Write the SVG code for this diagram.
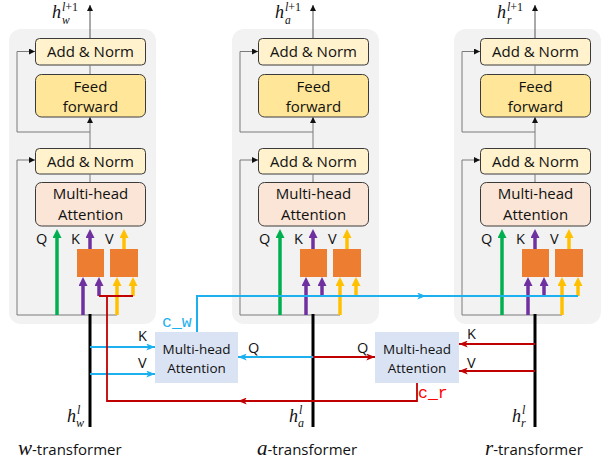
<svg xmlns="http://www.w3.org/2000/svg" width="608" height="462" viewBox="0 0 608 462">
<style>
.panel{fill:#f2f2f2}
.an{fill:#fff2cc;stroke:#3a3a3a;stroke-width:1}
.ff{fill:#ffe699;stroke:#3a3a3a;stroke-width:1}
.mha{fill:#fbe5d6;stroke:#3a3a3a;stroke-width:1}
.ob{fill:#ed7d31}
.xa{fill:#dae3f3}
.t{font-family:"Open Sans","Liberation Sans",sans-serif;font-size:15px;fill:#111;text-anchor:middle}
.tx{font-family:"Open Sans","Liberation Sans",sans-serif;font-size:13.5px;fill:#111;text-anchor:middle}
.lb{font-family:"Open Sans","Liberation Sans",sans-serif;font-size:14.5px;fill:#111}
.m{font-family:"Liberation Serif","DejaVu Serif",serif;font-style:italic;fill:#111}
.mu{font-family:"Liberation Serif","DejaVu Serif",serif;fill:#111}
.g{fill:none;stroke:#7a7a7a;stroke-width:1}
.gk{fill:none;stroke:#555;stroke-width:1}
.blk{fill:none;stroke:#000;stroke-width:3}
.cg{fill:none;stroke:#00b050;stroke-width:3.5}
.cp{fill:none;stroke:#7030a0;stroke-width:3.5}
.cy{fill:none;stroke:#ffc000;stroke-width:3.5}
.bl{fill:none;stroke:#1cb0ee;stroke-width:2}
.rd{fill:none;stroke:#c00000;stroke-width:1.8}
.code{font-family:"Liberation Mono","DejaVu Sans Mono",monospace;font-size:16.5px}
</style>
<defs>
<marker id="ak" viewBox="0 0 10 10" refX="10" refY="5" markerWidth="6" markerHeight="6" markerUnits="userSpaceOnUse" orient="auto"><path d="M0,0L10,5L0,10z" fill="#111"/></marker>
<marker id="ag" viewBox="0 0 10 10" refX="0" refY="5" markerWidth="9" markerHeight="9" markerUnits="userSpaceOnUse" orient="auto"><path d="M0,0L10,5L0,10z" fill="#00b050"/></marker>
<marker id="ap" viewBox="0 0 10 10" refX="0" refY="5" markerWidth="9" markerHeight="9" markerUnits="userSpaceOnUse" orient="auto"><path d="M0,0L10,5L0,10z" fill="#7030a0"/></marker>
<marker id="ay" viewBox="0 0 10 10" refX="0" refY="5" markerWidth="9" markerHeight="9" markerUnits="userSpaceOnUse" orient="auto"><path d="M0,0L10,5L0,10z" fill="#ffc000"/></marker>
<marker id="ab" viewBox="0 0 10 8" refX="10" refY="4" markerWidth="9" markerHeight="7" markerUnits="userSpaceOnUse" orient="auto"><path d="M0,0L10,4L0,8L2.5,4z" fill="#1cb0ee"/></marker>
<marker id="ar" viewBox="0 0 10 8" refX="10" refY="4" markerWidth="9" markerHeight="7" markerUnits="userSpaceOnUse" orient="auto"><path d="M0,0L10,4L0,8L2.5,4z" fill="#c00000"/></marker>
<g id="layer">
  <rect class="panel" x="9" y="29" width="147" height="295" rx="12"/>
  <rect class="an" x="35.5" y="38.5" width="110" height="26.5" rx="4"/>
  <text class="t" x="90.5" y="57">Add &amp; Norm</text>
  <rect class="ff" x="35.5" y="74.5" width="110" height="42.5" rx="6"/>
  <text class="t" x="90.5" y="92">Feed</text>
  <text class="t" x="90.5" y="112">forward</text>
  <rect class="an" x="35.5" y="148.5" width="110" height="25.5" rx="4"/>
  <text class="t" x="90.5" y="166.5">Add &amp; Norm</text>
  <rect class="mha" x="35.5" y="182.5" width="110" height="43.5" rx="6"/>
  <text class="t" x="90.5" y="199">Multi-head</text>
  <text class="t" x="90.5" y="220">Attention</text>
  <rect class="ob" x="77" y="249" width="27" height="28"/>
  <rect class="ob" x="110" y="249" width="28" height="28"/>
  <text class="lb" x="36" y="244">Q</text>
  <text class="lb" x="71" y="244">K</text>
  <text class="lb" x="105" y="244">V</text>
  <line class="gk" x1="90" y1="38" x2="90" y2="5" marker-end="url(#ak)"/>
  <line class="g" x1="90" y1="65" x2="90" y2="74"/>
  <line class="g" x1="90" y1="148" x2="90" y2="117" marker-end="url(#ak)"/>
  <line class="g" x1="90" y1="174" x2="90" y2="182"/>
  <polyline class="g" points="90,132 17,132 17,51.5 35,51.5" marker-end="url(#ak)"/>
  <polyline class="g" points="117,315 17,315 17,160 35,160" marker-end="url(#ak)"/>
  <line class="blk" x1="90" y1="314" x2="90" y2="427"/>
  <line class="cg" x1="57" y1="315" x2="57" y2="238" marker-end="url(#ag)"/>
  <line class="cp" x1="83" y1="315" x2="83" y2="286" marker-end="url(#ap)"/>
  <line class="cy" x1="117" y1="315" x2="117" y2="286" marker-end="url(#ay)"/>
  <line class="cp" x1="99" y1="296" x2="99" y2="286" marker-end="url(#ap)"/>
  <line class="cy" x1="133" y1="296" x2="133" y2="286" marker-end="url(#ay)"/>
  <line class="cp" x1="90" y1="249" x2="90" y2="238" marker-end="url(#ap)"/>
  <line class="cy" x1="124" y1="249" x2="124" y2="238" marker-end="url(#ay)"/>
</g>
</defs>

<g id="w-transformer">
  <use href="#layer"/>
  <text class="m" x="52" y="18" font-size="18">h</text>
  <text x="62" y="11" font-size="12"><tspan class="m">l</tspan><tspan class="mu">+1</tspan></text>
  <text class="m" x="62" y="24" font-size="11.5">w</text>
  <text class="m" x="67" y="422" font-size="18">h</text>
  <text class="m" x="77" y="414" font-size="12">l</text>
  <text class="m" x="76" y="427" font-size="12">w</text>
  <text x="18" y="455"><tspan class="m" font-size="21">w</tspan><tspan class="t" style="text-anchor:start">-transformer</tspan></text>
</g>

<g id="a-transformer">
  <use href="#layer" transform="translate(223,0)"/>
  <text class="m" x="275" y="18" font-size="18">h</text>
  <text x="285" y="11" font-size="12"><tspan class="m">l</tspan><tspan class="mu">+1</tspan></text>
  <text class="m" x="285" y="24" font-size="11.5">a</text>
  <text class="m" x="289" y="422" font-size="18">h</text>
  <text class="m" x="299" y="414" font-size="12">l</text>
  <text class="m" x="298" y="427" font-size="12">a</text>
  <text x="257" y="455"><tspan class="m" font-size="21">a</tspan><tspan class="t" style="text-anchor:start">-transformer</tspan></text>
</g>

<g id="r-transformer">
  <use href="#layer" transform="translate(445,0)"/>
  <text class="m" x="497" y="18" font-size="18">h</text>
  <text x="507" y="11" font-size="12"><tspan class="m">l</tspan><tspan class="mu">+1</tspan></text>
  <text class="m" x="507" y="24" font-size="11.5">r</text>
  <text class="m" x="512" y="422" font-size="18">h</text>
  <text class="m" x="522" y="414" font-size="12">l</text>
  <text class="m" x="521" y="427" font-size="12">r</text>
  <text x="485" y="455"><tspan class="m" font-size="21">r</tspan><tspan class="t" style="text-anchor:start">-transformer</tspan></text>
</g>

<g id="cross-attn-w">
  <rect class="xa" x="155" y="332" width="83" height="51"/>
  <text class="tx" x="196.5" y="354">Multi-head</text>
  <text class="tx" x="196.5" y="373">Attention</text>
</g>

<g id="cross-attn-r">
  <rect class="xa" x="375" y="332" width="84" height="51"/>
  <text class="tx" x="417" y="354">Multi-head</text>
  <text class="tx" x="417" y="373">Attention</text>
</g>

<g id="connectors">
  <line class="bl" x1="90" y1="347" x2="155" y2="347" marker-end="url(#ab)"/>
  <line class="bl" x1="90" y1="374" x2="155" y2="374" marker-end="url(#ab)"/>
  <line class="bl" x1="313" y1="357" x2="238" y2="357" marker-end="url(#ab)"/>
  <polyline class="bl" points="197,332 197,296 578,296"/>
  <line class="bl" x1="400" y1="296" x2="426" y2="296" marker-end="url(#ab)"/>
  <line class="rd" x1="313" y1="357" x2="375" y2="357" marker-end="url(#ar)"/>
  <line class="rd" x1="535" y1="344" x2="459" y2="344" marker-end="url(#ar)"/>
  <line class="rd" x1="535" y1="371" x2="459" y2="371" marker-end="url(#ar)"/>
  <polyline class="rd" points="417,383 417,401 107,401 107,296"/>
  <line class="rd" x1="280" y1="401" x2="238" y2="401" marker-end="url(#ar)"/>
  <line class="rd" x1="99" y1="296" x2="133" y2="296"/>
  <text class="lb" x="138" y="341">K</text>
  <text class="lb" x="138" y="368">V</text>
  <text class="lb" x="248" y="353">Q</text>
  <text class="lb" x="357" y="353">Q</text>
  <text class="lb" x="467" y="339">K</text>
  <text class="lb" x="467" y="368">V</text>
  <text class="code" x="162" y="327" fill="#1cb0ee">c_w</text>
  <text class="code" x="418" y="398" fill="#ff0000">c_r</text>
</g>
</svg>
